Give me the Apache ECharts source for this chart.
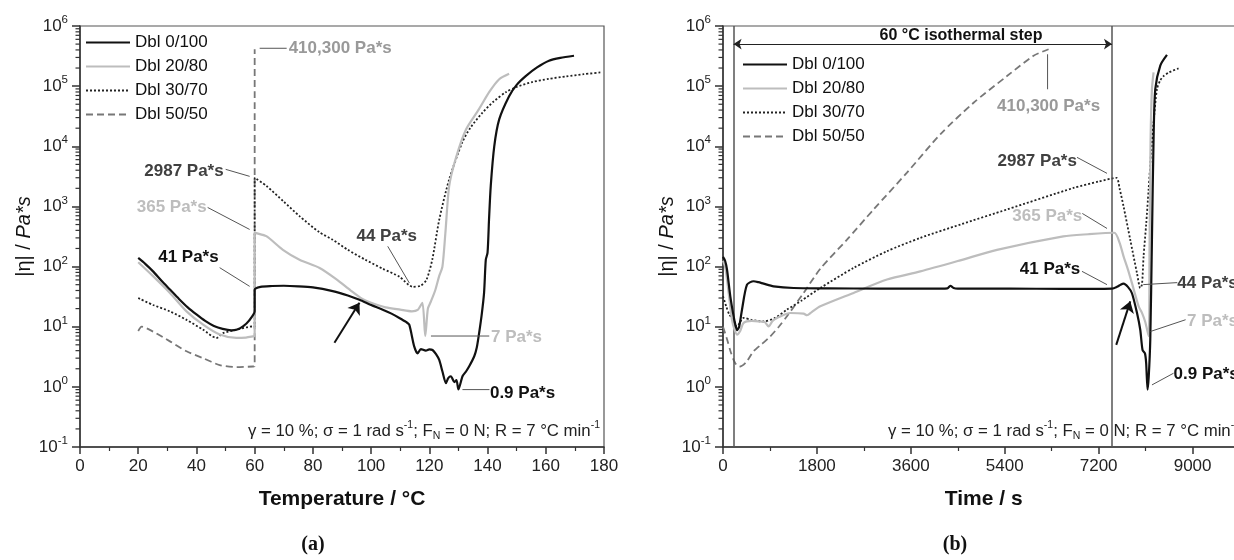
<!DOCTYPE html>
<html><head><meta charset="utf-8">
<script src="https://cdn.jsdelivr.net/npm/echarts@6/dist/echarts.min.js"></script>
<style>html,body{margin:0;padding:0;background:#fff}#c{width:1234px;height:560px}</style>
</head><body><div id="c"></div>
<script>
// ---------------- data ----------------
const seriesNames = ['Dbl 0/100', 'Dbl 20/80', 'Dbl 30/70', 'Dbl 50/50'];

// panel (a): viscosity vs temperature
const tA0 = [20,22.5,25,28,31,34,37,40,43,46,49,52,54,56,58,60,60,62,66,70,75,80,86.8,92,96,100,104,107,109.7,112,113.1,114.8,116,117.1,118.8,120,121.1,122.3,123.4,124.5,125.7,126.5,127.4,128.6,129.3,130,131.4,132.6,133.7,135.4,136.3,137.1,138,138.8,139.4,140,140.5,141.1,142.3,144,147.4,150,153.1,157,161.1,165,169.7];
const vA0 = [139,110,84,58,41,29,21,16,12.5,10.3,9.2,8.7,9.0,10.1,12.5,18,41,46,47.5,48,47,45,39,33,28,23,19.2,16.5,14,12,10.8,4.7,3.6,4.25,4.0,4.2,4.1,3.5,2.8,1.8,1.15,1.4,1.5,1.2,1.3,0.91,1.5,1.8,2.2,3.2,4.5,7.8,16,36.5,130,170,600,2200,10000,28000,68000,105000,147000,205000,265000,295000,320000];
const tA20 = [20,25,30.9,36.6,42.3,48,53.7,57,59.4,60,60,60.5,64,69.7,75.4,82.3,88,93,97,100,105,110,114,116,117.6,118.6,119.5,120.5,122,123.4,124.5,125.5,126.8,129,132.6,137,140.6,144,147.4];
const vA20 = [118,70,36.5,18,10.8,7.4,6.5,6.6,6.9,7,365,360,320,190,130,95,62,40,29,25,21,19.2,18,19,25,7,20,26,40,70,100,355,2150,6100,19000,41000,80000,130000,160000];
const tA30 = [20,25.1,30.9,36.6,42.3,46.9,49.1,53.7,59.4,60,60,64,70,75.4,82.3,86.8,92,98,104,109.7,114.3,117,119,121,123.4,126.8,131.3,134,138.2,142,146.4,150,155.3,161,167,173,179.4];
const vA30 = [30,23,18,13,8.9,6.5,7.8,8.9,10.1,10,2987,2200,1200,690,370,280,190,130,92,68,46,48,60,130,600,2800,11600,20000,36000,55000,80000,97000,117000,132000,145000,158000,170000];
const tA50 = [20,21.2,25.1,30.9,36.6,42.3,48,53.7,59.4,60,60];
const vA50 = [8.5,10,8.3,5.7,3.9,3.0,2.3,2.13,2.18,2.2,410300];

// panel (b): viscosity vs time
const tB0 = [0,40,77,140,203,240,270,310,364,460,586,680,778,970,1353,2000,3000,4000,4300,4356,4420,4500,5500,6500,7455,7551,7620,7677,7760,7838,7934,7997,8041,8087,8110,8137,8160,8189,8221,8252,8285,8381,8509];
const vB0 = [145,125,89,32,15,10.5,8.8,10,19.2,50,57,55,52,47,44,43.5,43,43,43.5,48,44,43,43,42.5,43,46,50,52,46,36,17,8.9,4.1,3.6,2.5,0.9,1.5,6,280,13000,89000,220000,330000];
const tB20 = [0,40,77,120,172,220,268,330,395,550,715,800,874,950,1035,1290,1545,1610,1700,1865,2503,3143,3781,4548,5251,6522,7000,7500,7600,7677,7760,7838,7965,8030,8093,8157,8175,8195,8221,8252];
const vB20 = [125,100,61,30,13,9,7.4,8.5,11.6,12.5,12.2,12,10.1,12.5,14,16.9,16.5,15.5,17.5,21.8,36.5,60.8,83,127,190,318,345,365,250,148,90,53,22,17,12,7,200,13000,89000,170000];
const tB30 = [0,60,120,203,268,330,395,550,778,1000,1226,1500,1865,2503,3143,3781,4548,5443,6719,7200,7540,7600,7677,7805,7934,7997,8030,8061,8110,8157,8205,8252,8317,8380,8444,8550,8731];
const vB30 = [32,22,16,13,10,12,14,13,12.2,14,19.2,27,44,95,180,300,500,890,2030,2600,2987,2000,1000,280,78,44,50,148,500,1900,8000,24500,89000,125000,147000,170000,197000];
const tB50 = [0,82,140,203,260,332,450,586,750,906,1070,1226,1545,1865,2376,2886,3526,4164,4803,5443,5952,6240];
const vB50 = [10,6,4,2.8,2.3,2.18,2.6,3.9,5.2,6.9,10,14.9,36.5,92,280,890,3650,15800,53000,147000,320000,410300];

// isothermal step limits (s)
const isoStart = 203, isoEnd = 7455;

// ---------------- styles ----------------
const F = '"Liberation Sans", Arial, Helvetica, sans-serif';
const C = {black:'#111', dark:'#404040', mid:'#999', light:'#bdbdbd', axis:'#333', lead:'#555'};
const styles = [
  {color:'#111', width:2.2, type:'solid', z:6},
  {color:'#bdbdbd', width:2.2, type:'solid', z:5},
  {color:'#222', width:1.8, type:[2,2], z:4},
  {color:'#777', width:1.8, type:[7,4], z:3}
];

const minorVals = [];
for (let e = -1; e <= 5; e++) for (let m = 2; m <= 9; m++) minorVals.push(+(m * Math.pow(10, e)).toPrecision(3));

function mk(i, xs, ys, g, extra) {
  const st = styles[i];
  return Object.assign({
    type:'line', name:seriesNames[i], xAxisIndex:g, yAxisIndex:g,
    data: xs.map((x, k) => [x, ys[k]]),
    symbol:'none', showSymbol:false, smooth:0.25,
    lineStyle:{color:st.color, width:st.width, type:st.type},
    itemStyle:{color:st.color}, z:st.z, animation:false, silent:true
  }, extra || {});
}
function minorTicks(g) {
  return {type:'custom', xAxisIndex:g, yAxisIndex:g, silent:true, clip:false, z:10, animation:false,
    data: minorVals.map(v => [0, v]),
    renderItem: (params, api) => {
      const p = api.coord([api.value(0), api.value(1)]);
      return {type:'line', shape:{x1:p[0]-4.5, y1:p[1], x2:p[0], y2:p[1]}, style:{stroke:C.axis, lineWidth:1.2}};
    }};
}
function xAx(g, max, interval, name, pad) {
  return {type:'value', gridIndex:g, min:0, max:max, interval:interval,
    axisLine:{show:true, lineStyle:{color:C.axis, width:1.5}},
    axisTick:{show:true, length:7, lineStyle:{color:C.axis, width:1.5}},
    minorTick:{show:true, splitNumber:2, length:4, lineStyle:{color:C.axis, width:1.2}},
    splitLine:{show:false}, minorSplitLine:{show:false},
    axisLabel:{fontSize:17, color:'#222', fontFamily:F, margin:11, formatter: v => String(v)},
    name:name, nameLocation:'middle', nameGap:42,
    nameTextStyle:{fontSize:21, fontWeight:'bold', color:'#111', fontFamily:F, padding:pad}};
}
function yAx(g) {
  return {type:'log', logBase:10, gridIndex:g, min:0.1, max:1e6, splitNumber:7,
    axisLine:{show:true, lineStyle:{color:C.axis, width:1.5}},
    axisTick:{show:true, length:8, lineStyle:{color:C.axis, width:1.5}},
    splitLine:{show:false},
    axisLabel:{margin:12, formatter: v => '{b|10}{s|' + Math.round(Math.log10(v)) + '}',
      rich:{b:{fontSize:17, lineHeight:24, color:'#222', fontFamily:F, verticalAlign:'middle'},
            s:{fontSize:11.5, lineHeight:12, color:'#222', fontFamily:F, verticalAlign:'top'}}},
    name:'{n||η| / }{i|Pa*s}', nameLocation:'middle', nameGap:46, nameRotate:90,
    nameTextStyle:{rich:{n:{fontSize:20, color:'#111', fontFamily:F}, i:{fontSize:20, fontStyle:'italic', color:'#111', fontFamily:F}}}};
}

const chart = echarts.init(document.getElementById('c'), null, {renderer:'canvas'});
const legendBase = {orient:'vertical', padding:0, itemWidth:44, itemHeight:12, itemGap:7, selectedMode:false,
  itemStyle:{opacity:0, borderWidth:0},
  textStyle:{fontSize:17, color:'#111', fontFamily:F}, data:seriesNames};

const option = {
  backgroundColor:'#fff', animation:false,
  grid:[
    {left:80, top:26, width:524, height:421, show:true, borderColor:'#555', borderWidth:1.2, backgroundColor:'transparent', outerBoundsMode:'none'},
    {left:723, top:26, width:563.5, height:421, show:true, borderColor:'#555', borderWidth:1.2, backgroundColor:'transparent', outerBoundsMode:'none'}
  ],
  xAxis:[xAx(0, 180, 20, 'Temperature / °C', [0,0,0,0]), xAx(1, 10800, 1800, 'Time / s', [0,42,0,0])],
  yAxis:[yAx(0), yAx(1)],
  legend:[Object.assign({left:85, top:34}, legendBase), Object.assign({left:742, top:56}, legendBase)],
  series:[
    mk(3, tA50, vA50, 0), mk(2, tA30, vA30, 0), mk(1, tA20, vA20, 0),
    mk(0, tA0, vA0, 0, {markLine:{silent:true, animation:false, symbol:['none','arrow'], symbolSize:11,
      label:{show:false}, lineStyle:{color:'#111', width:2, type:'solid'},
      data:[[{coord:[87.4, 5.41]}, {coord:[96, 25.1]}]]}}),
    mk(3, tB50, vB50, 1), mk(2, tB30, vB30, 1), mk(1, tB20, vB20, 1),
    mk(0, tB0, vB0, 1, {markLine:{silent:true, animation:false, symbol:['none','none'], symbolSize:11,
      label:{show:false}, lineStyle:{color:'#555', width:1.5, type:'solid'},
      data:[
        {xAxis:isoStart}, {xAxis:isoEnd},
        [{coord:[isoStart, 501000], symbol:'arrow', symbolSize:8, lineStyle:{color:'#222', width:1.2, type:'solid'}},
         {coord:[isoEnd, 501000], symbol:'arrow', symbolSize:8}],
        [{coord:[7537, 5.0], symbol:'none', lineStyle:{color:'#111', width:2, type:'solid'}},
         {coord:[7806, 26.4], symbol:'arrow', symbolSize:11}]
      ]}}),
    minorTicks(0), minorTicks(1)
  ]
};
chart.setOption(option);

// ---------------- annotations (anchored to data points) ----------------
const annA = [
  {at:[60, 410300], l:[[5,-1],[32,-1]], t:[34,-1], a:'left', c:C.mid, s:'410,300 Pa*s'},
  {at:[60, 2987], l:[[-5,-1.5],[-29,-8.5]], t:[-31,-6.5], a:'right', c:C.dark, s:'2987 Pa*s'},
  {at:[60, 365], l:[[-5,-3.3],[-47,-25.3]], t:[-48,-25.3], a:'right', c:C.light, s:'365 Pa*s'},
  {at:[60, 41], l:[[-5,-3.5],[-35,-22.2]], t:[-36,-33], a:'right', c:C.black, s:'41 Pa*s'},
  {at:[114.3, 44], l:[[-3.4,-5],[-25,-41.7]], t:[-26,-51.7], a:'center', c:C.dark, s:'44 Pa*s'},
  {at:[118.6, 7], l:[[5.7,0],[64,0]], t:[65.7,1.7], a:'left', c:C.light, s:'7 Pa*s'},
  {at:[130, 0.9], l:[[4,0],[31,0]], t:[31.5,3.6], a:'left', c:C.black, s:'0.9 Pa*s'}
];
const annB = [
  {at:[6240, 410300], l:[[-1,5],[-1,40]], t:[0,56.7], a:'center', c:C.mid, s:'410,300 Pa*s'},
  {at:[7540, 2987], l:[[-9.4,-4.5],[-39.4,-20.5]], t:[-39.5,-16.8], a:'right', c:C.dark, s:'2987 Pa*s'},
  {at:[7500, 365], l:[[-7.3,-4.3],[-32,-19.3]], t:[-32,-16.6], a:'right', c:C.light, s:'365 Pa*s'},
  {at:[7455, 42], l:[[-5,-4.6],[-30,-17.9]], t:[-31.7,-19.6], a:'right', c:C.black, s:'41 Pa*s'},
  {at:[7997, 44], l:[[3,-3.4],[37,-5.4]], t:[37,-5], a:'left', c:C.dark, s:'44 Pa*s'},
  {at:[8157, 7], l:[[2,-4.6],[37,-16.3]], t:[38.4,-14.6], a:'left', c:C.light, s:'7 Pa*s'},
  {at:[8137, 0.9], l:[[4.4,-4.7],[26,-16.4]], t:[26,-15], a:'left', c:C.black, s:'0.9 Pa*s'}
];
const condText = '{n|γ = 10 %; σ = 1 rad s}{sp|-1}{n|; F}{sb|N}{n| = 0 N; R = 7 °C min}{sp|-1}';
const condRich = {
  n:{fontSize:16.8, fontFamily:F, fill:'#222', lineHeight:22, verticalAlign:'middle'},
  sp:{fontSize:10.5, fontFamily:F, fill:'#222', lineHeight:12, verticalAlign:'top'},
  sb:{fontSize:10.5, fontFamily:F, fill:'#222', lineHeight:12, verticalAlign:'bottom'}
};

const els = [];
[[0, annA], [1, annB]].forEach(([g, list]) => list.forEach(an => {
  const p = chart.convertToPixel({gridIndex:g}, an.at);
  els.push({type:'line', silent:true, z:20, shape:{x1:p[0]+an.l[0][0], y1:p[1]+an.l[0][1], x2:p[0]+an.l[1][0], y2:p[1]+an.l[1][1]},
    style:{stroke:C.lead, lineWidth:1}});
  els.push({type:'text', silent:true, z:20, x:p[0]+an.t[0], y:p[1]+an.t[1],
    style:{text:an.s, fill:an.c, font:'bold 17px ' + F, align:an.a, verticalAlign:'middle'}});
}));
els.push({type:'text', silent:true, z:20, x:600, y:431, style:{text:condText, rich:condRich, align:'right', verticalAlign:'middle'}});
els.push({type:'text', silent:true, z:20, x:888, y:431, style:{text:condText, rich:condRich, align:'left', verticalAlign:'middle'}});
els.push({type:'text', silent:true, z:20, x:961, y:36, style:{text:'60 °C isothermal step', fill:'#111', font:'bold 16px ' + F, align:'center', verticalAlign:'middle'}});
els.push({type:'text', silent:true, z:20, x:313, y:545, style:{text:'(a)', fill:'#111', font:'bold 20px "Liberation Serif", "DejaVu Serif", serif', align:'center', verticalAlign:'middle'}});
els.push({type:'text', silent:true, z:20, x:955, y:545, style:{text:'(b)', fill:'#111', font:'bold 20px "Liberation Serif", "DejaVu Serif", serif', align:'center', verticalAlign:'middle'}});
chart.setOption({graphic:{elements:els}});
</script>
</body></html>
